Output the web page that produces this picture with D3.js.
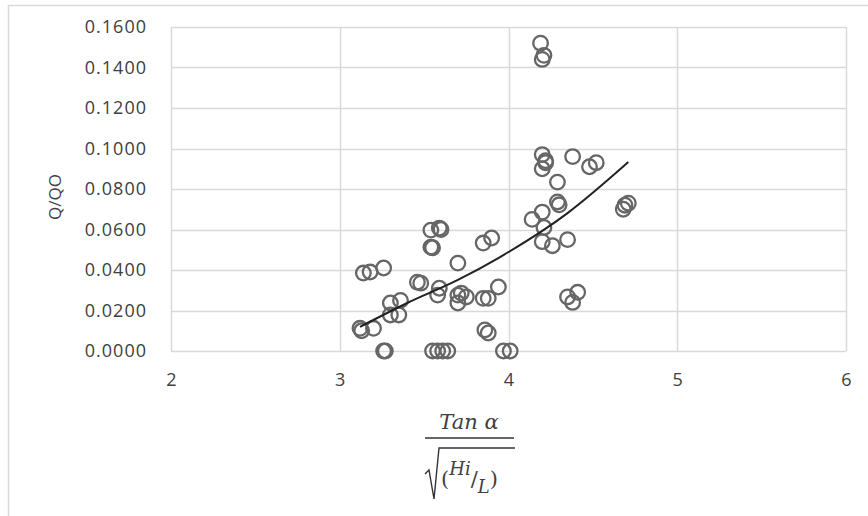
<!DOCTYPE html>
<html>
<head>
<meta charset="utf-8">
<script src="https://cdn.jsdelivr.net/npm/d3@7"></script>
<style>
  body { margin: 0; background: #fff; }
  svg text { font-family: "Open Sans", "Noto Sans", sans-serif; fill: #404040; }
</style>
</head>
<body>
<div id="chart"></div>
<script>
// measured points (Tan a / sqrt(Hi/L), Q/QO)
var xVals = [3.26, 3.27, 3.55, 3.58, 3.61, 3.64, 3.97, 4.01,
  3.12, 3.13, 3.20, 3.14, 3.18, 3.26,
  3.30, 3.36, 3.30, 3.35, 3.46, 3.48, 3.58, 3.59, 3.70,
  3.70, 3.72, 3.75, 3.70, 3.85, 3.88, 3.94, 3.86, 3.88,
  3.54, 3.59, 3.60, 3.54, 3.55, 3.85, 3.90,
  4.20, 4.22, 4.20, 4.22, 4.38, 4.48, 4.52, 4.29, 4.29, 4.30,
  4.20, 4.14, 4.21, 4.20, 4.26, 4.35, 4.69, 4.71, 4.68,
  4.41, 4.35, 4.38, 4.19, 4.21, 4.20];
var yVals = [0.0000, 0.0000, 0.0000, 0.0000, 0.0000, 0.0000, 0.0000, 0.0000,
  0.0112, 0.0100, 0.0112, 0.0385, 0.0390, 0.0410,
  0.0237, 0.0250, 0.0178, 0.0178, 0.0340, 0.0335, 0.0276, 0.0310, 0.0434,
  0.0276, 0.0286, 0.0267, 0.0237, 0.0260, 0.0260, 0.0316, 0.0104, 0.0089,
  0.0597, 0.0607, 0.0600, 0.0513, 0.0510, 0.0533, 0.0558,
  0.0970, 0.0940, 0.0900, 0.0930, 0.0960, 0.0910, 0.0930, 0.0834, 0.0736, 0.0722,
  0.0686, 0.0650, 0.0610, 0.0540, 0.0520, 0.0550, 0.0720, 0.0730, 0.0700,
  0.0290, 0.0267, 0.0240, 0.1520, 0.1460, 0.1440];

// trendline
var trendX = [3.12, 3.40, 3.70, 3.95, 4.35, 4.71];
var trendY = [0.0119, 0.0237, 0.0351, 0.0464, 0.0681, 0.0933];

var xTicks = [2, 3, 4, 5, 6];
var yTicks = [0, 0.02, 0.04, 0.06, 0.08, 0.10, 0.12, 0.14, 0.16];

var w = 868, h = 516;

const svg = d3.select("#chart").append("svg").attr("width", w).attr("height", h);

// outer frame
svg.append("path")
  .attr("d", "M8.5,516 V5.5 H868")
  .attr("fill", "none").attr("stroke", "#d9d9d9").attr("stroke-width", 1.5);

const x = d3.scaleLinear().domain([2, 6]).range([171, 846]);
const y = d3.scaleLinear().domain([0, 0.16]).range([351, 27]);

// grid
svg.append("g").selectAll("line").data(yTicks).enter().append("line")
  .attr("x1", x(2)).attr("x2", x(6))
  .attr("y1", (d) => Math.round(y(d)) + 0.5).attr("y2", (d) => Math.round(y(d)) + 0.5)
  .attr("stroke", "#d9d9d9").attr("stroke-width", 1.5);
svg.append("g").selectAll("line").data(xTicks).enter().append("line")
  .attr("y1", y(0)).attr("y2", y(0.16))
  .attr("x1", (d) => Math.round(x(d)) + 0.5).attr("x2", (d) => Math.round(x(d)) + 0.5)
  .attr("stroke", "#d9d9d9").attr("stroke-width", 1.5);

// axes (labels only)
const yAxis = d3.axisLeft(y).tickValues(yTicks).tickFormat(d3.format(".4f")).tickSize(0).tickPadding(24);
const gy = svg.append("g").attr("transform", "translate(" + x(2) + ",0)").call(yAxis);
gy.select(".domain").remove();
gy.selectAll("text").style("font-size", "18px").style("font-family", "Open Sans").attr("fill", "#404040").attr("letter-spacing", "1px");

const xAxis = d3.axisBottom(x).tickValues(xTicks).tickFormat(d3.format("d")).tickSize(0).tickPadding(22);
const gx = svg.append("g").attr("transform", "translate(0," + y(0) + ")").call(xAxis);
gx.select(".domain").remove();
gx.selectAll("text").style("font-size", "18px").style("font-family", "Open Sans").attr("fill", "#404040");

// points
svg.append("g").selectAll("circle").data(xVals).enter().append("circle")
  .attr("cx", (d) => x(d))
  .attr("cy", (d, i) => y(yVals[i]))
  .attr("r", 7.3)
  .attr("fill", "none")
  .attr("stroke", "#666")
  .attr("stroke-width", 2.3);

// trendline
const line = d3.line().x((d) => x(d)).y((d, i) => y(trendY[i])).curve(d3.curveMonotoneX);
svg.append("path").datum(trendX).attr("d", line)
  .attr("fill", "none").attr("stroke", "#222").attr("stroke-width", 2);

// y title
svg.append("text")
  .attr("transform", "translate(61,197) rotate(-90)")
  .attr("text-anchor", "middle")
  .style("font-size", "17px")
  .text("Q/QO");

// x title: fraction
const xt = svg.append("g").attr("transform", "translate(469,0)");
xt.append("text").attr("x", 0).attr("y", 429)
  .attr("text-anchor", "middle")
  .style("font-family", "DejaVu Serif").style("font-style", "italic").style("font-size", "21px")
  .attr("fill", "#333")
  .text("Tan α");
xt.append("line").attr("x1", -44).attr("x2", 45).attr("y1", 438).attr("y2", 438)
  .attr("stroke", "#333").attr("stroke-width", 1.6);
// radical sign
xt.append("path")
  .attr("d", "M-44,474 L-40,470 L-35,499 L-30,448 L46,448")
  .attr("fill", "none").attr("stroke", "#333").attr("stroke-width", 1.4);
const den = xt.append("text").attr("y", 486)
  .style("font-family", "DejaVu Serif").style("font-size", "21px").attr("fill", "#333");
den.append("tspan").attr("x", -28).text("(");
den.append("tspan").attr("dy", -11).style("font-style", "italic").style("font-size", "18px").text("Hi");
den.append("tspan").attr("dy", 11).text("/");
den.append("tspan").attr("dy", 7).style("font-style", "italic").style("font-size", "18px").text("L");
den.append("tspan").attr("dy", -7).text(")");
</script>
</body>
</html>
